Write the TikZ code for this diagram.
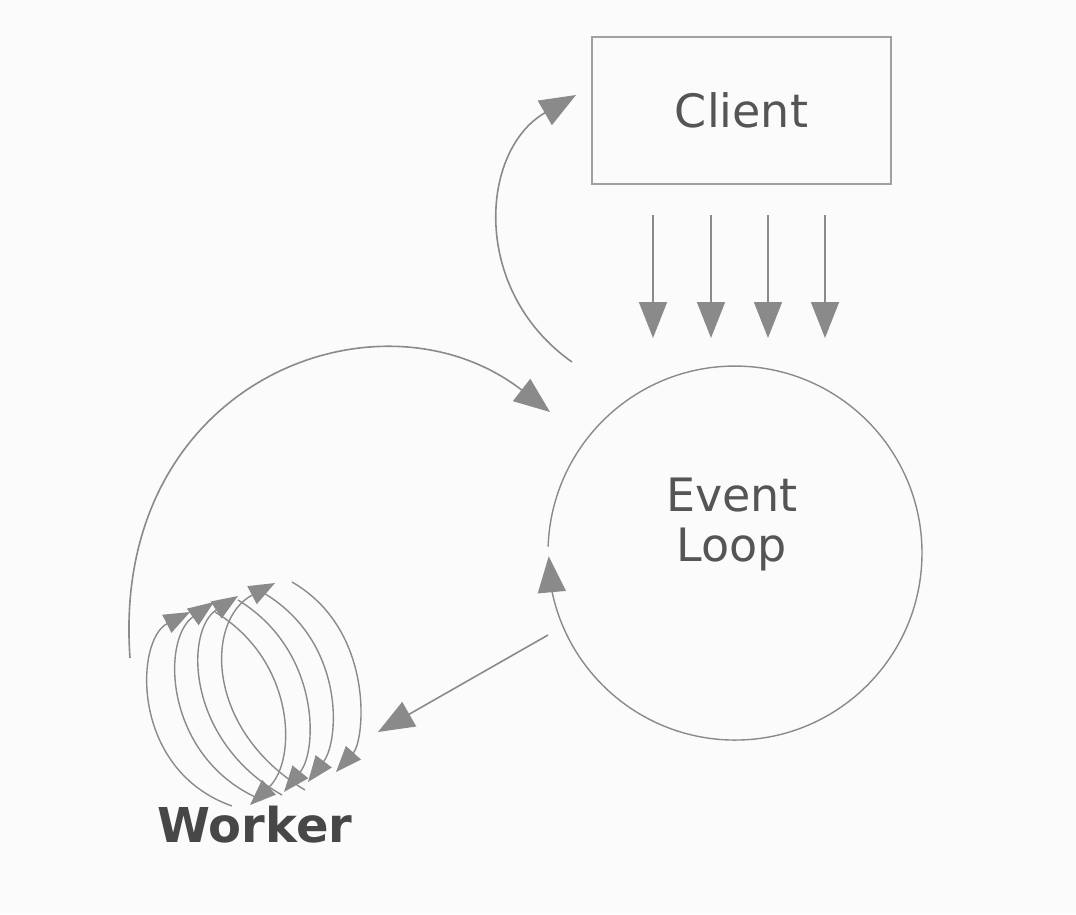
\documentclass[tikz,border=0pt]{standalone}
\usepackage{fontspec}
\setmainfont{DejaVu Sans}
\usetikzlibrary{arrows.meta}
\definecolor{ln}{HTML}{8A8A8A}
\definecolor{tx}{HTML}{555555}
\begin{document}
\begin{tikzpicture}[x=1pt,y=-1pt,
  ar/.style={draw=ln,line width=1.6pt,-{Triangle[length=36pt,width=28pt]}},
  thin/.style={draw=ln,line width=1.4pt},
  wa/.style={draw=ln,line width=1.4pt,-{Triangle[length=26pt,width=20pt]}},
  lbl/.style={text=tx,font=\fontsize{46}{56}\selectfont,align=center}]
\useasboundingbox[fill=white!97!gray] (0,0) rectangle (1076,914);
\node[draw=ln!80,line width=1.4pt,minimum width=299pt,minimum height=147pt,lbl] (client) at (741.5,110.5) {Client};
\node[circle,minimum size=374pt,inner sep=0pt] (loop) at (735,540) {};
\node[lbl] (looptxt) at (732,525) {Event\\[-6pt]Loop};
\node[text=black!72,font=\fontsize{48}{56}\selectfont\bfseries] (worker) at (255,825) {Worker};
\foreach \x/\n in {653/a,711/b,768/c,825/d}{
  \coordinate (s\n) at (\x,215); \coordinate (e\n) at (\x,338);
  \draw[ar] (s\n) -- (e\n);}
\draw[thin] (735,540) ++(178:187) arc[start angle=-178,end angle=174,radius=187];
\draw[ar] (735,540) ++(-196:187) arc[start angle=-196,end angle=-185,radius=187];
\coordinate (c1) at (572,362); \coordinate (c2) at (576,95);
\draw[ar] (c1) .. controls (470,290) and (480,150) .. (c2);
\coordinate (b1) at (130,658); \coordinate (b2) at (550,412);
\draw[ar] (b1) .. controls (110,380) and (380,280) .. (b2);
\coordinate (w1) at (548,635); \coordinate (w2) at (378,732);
\draw[ar] (w1) -- (w2);
\draw[wa] (232,806) .. controls (130,770) and (135,640) .. (190,612);
\draw[wa] (262,800) .. controls (165,760) and (160,640) .. (214,602);
\draw[wa] (282,795) .. controls (185,740) and (185,630) .. (238,596);
\draw[wa] (305,790) .. controls (205,730) and (205,620) .. (275,583);
\draw[wa] (292,582) .. controls (375,630) and (365,740) .. (336,772);
\draw[wa] (262,592) .. controls (345,640) and (340,740) .. (308,782);
\draw[wa] (238,600) .. controls (320,650) and (318,750) .. (284,792);
\draw[wa] (215,612) .. controls (295,660) and (298,760) .. (250,805);
\end{tikzpicture}
\end{document}
